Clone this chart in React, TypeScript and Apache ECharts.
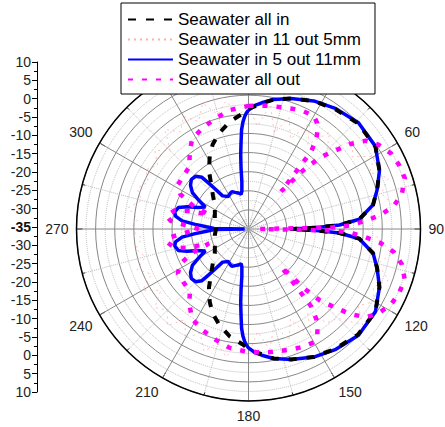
import React, { useEffect, useRef } from 'react';
import * as echarts from 'echarts';

// Seawater all in (black dashed)
const allInAngles = [0, 4, 8, 11, 18, 27, 36, 46, 57, 66, 73, 79, 85, 87.5, 89, 90, 91, 92.5, 95, 101, 107, 114, 123, 134, 144, 153, 162, 169, 172, 176, 180, 183, 190, 197, 203, 208, 214, 220, 227, 234, 245, 259, 270, 281, 295, 306, 313, 320, 326, 332, 337, 343, 350, 357, 360];
const allInValues = [-3.6, -2.6, -1.4, -0.5, 0.9, 2.6, 3.7, 4.8, 4.6, 2.5, 0.2, -1.8, -5.9, -11.2, -18, -24, -18, -11.2, -5.9, -1.8, 0.2, 2.5, 4.6, 4.8, 3.7, 2.6, 0.9, -0.5, -1.4, -2.6, -3.6, -4.8, -6.5, -8.8, -11, -13.4, -16.5, -19.8, -22.3, -24.1, -25.3, -26, -26.5, -26, -25.3, -24.1, -22.3, -19.8, -16.5, -13.4, -11, -8.8, -6.5, -4.8, -3.6];

// Seawater in 11 out 5mm (faint pink dotted)
const in11Angles = [0, 5, 10, 15, 20, 25, 30, 35, 40, 45, 50, 55, 60, 65, 70, 75, 80, 85, 90, 95, 100, 105, 110, 115, 120, 125, 130, 135, 140, 145, 150, 155, 160, 165, 170, 175, 180, 185, 190, 195, 200, 205, 210, 215, 220, 225, 230, 235, 240, 245, 250, 255, 260, 265, 270, 275, 280, 285, 290, 295, 300, 305, 310, 315, 320, 325, 330, 335, 340, 345, 350, 355, 360];
const in11Values = [-3, -8, -2, -9, -4, -9, -3, -8, -2, -6, 1, -2, 3, 0, 4, 1, 3, -1, -4, 0, 3, 0, 4, 1, 3, 0, 4, -2, -3, -8, -2, -9, -4, -9, -3, -8, -2, -5, -1, -4, -1, -5, -2, -6, -2, -5, -3, -7, -3, -7, -4, -7, -5, -7, -4, -6, -3, -6, -4, -6, -4, -6, -3, -6, -1, -4, -1, -4, 0, -4, -1, -5, -3];

// Seawater in 5 out 11mm (blue solid)
const in5Angles = [0, 3, 6, 11, 18, 27, 36, 46, 57, 66, 73, 79, 85, 87.5, 88.6, 89.3, 90, 90.7, 91.4, 92.5, 95, 101, 107, 114, 123, 134, 144, 153, 162, 169, 174, 177, 180, 181, 182, 183, 184, 185, 186, 187, 188, 190, 192, 196, 200, 204, 207, 212, 218, 220, 221, 222, 225, 229, 233, 237, 240, 243, 247, 250, 253, 257, 260, 263, 265, 267, 269, 270, 271, 273, 275, 277, 280, 283, 287, 290, 293, 297, 300, 303, 307, 311, 315, 318, 319, 320, 322, 328, 333, 336, 340, 344, 348, 350, 352, 353, 354, 355, 356, 357, 358, 359, 360];
const in5Values = [-3.9, -2.6, -1.8, -0.5, 0.9, 2.6, 3.9, 5.0, 4.6, 2.5, 0.2, -1.8, -5.9, -11.2, -16.4, -20.7, -24, -20.7, -16.4, -11.2, -5.9, -1.8, 0.2, 2.5, 4.6, 5.0, 3.9, 2.6, 0.9, -0.5, -1.8, -2.6, -3.9, -4.6, -5.6, -7, -9, -12.5, -15.5, -19, -22.5, -25, -25.7, -25.2, -24.8, -24.3, -24.5, -25, -24, -21, -19, -16.8, -15.5, -15.2, -16, -17.5, -20, -22.3, -20.6, -18, -15.8, -15.2, -15.6, -17.5, -21, -24, -26, -34, -26, -24, -21, -17.5, -15.6, -15.2, -15.8, -18, -20.6, -22.3, -20, -17.5, -16, -15.2, -15.5, -16.8, -19, -21, -24, -25, -24.5, -24.3, -24.8, -25.2, -25.7, -25, -22.5, -19, -15.5, -12.5, -9, -7, -5.6, -4.6, -3.9];

// Seawater all out (magenta dotted)
const allOutAngles = [0, 5, 10, 15, 20, 25, 30, 33, 35, 37, 39, 41, 43, 45, 48, 50, 53, 57, 62, 67, 72, 77, 81, 84, 86, 88, 89, 90, 91, 92, 94, 96, 99, 103, 108, 113, 118, 123, 127, 130, 132, 135, 137, 139, 141, 143, 145, 147, 150, 155, 160, 165, 170, 175, 180, 189, 196, 204, 212, 217, 220, 223, 230, 238, 243, 247, 250, 253, 256, 261, 264, 267, 270, 273, 276, 279, 284, 287, 290, 293, 297, 302, 310, 317, 320, 323, 328, 336, 344, 351, 360];
const allOutValues = [-2.8, -2.6, -2.3, -2.0, -1.5, -1.0, -0.8, -2.0, -3.5, -5.5, -9, -22, -14, -8.5, -4.2, -0.5, 3.4, 5.5, 7.2, 7.8, 8.0, 6.2, 3.5, -0.3, -4.3, -8.5, -13, -32, -13, -8.5, -4.3, -0.3, 3.5, 6.2, 8.0, 7.8, 7.2, 5.5, 3.4, -0.5, -4.2, -8.5, -14, -22, -9, -5.5, -3.5, -2.0, -0.8, -1.0, -1.5, -2.0, -2.3, -2.6, -2.8, -3.5, -4.7, -5.9, -7.2, -9.5, -11, -12.5, -13, -13.2, -15, -19, -24, -18, -15, -13.3, -14.5, -19, -22, -19, -14.5, -13.3, -15, -19, -24, -19, -15, -13.2, -13, -12.5, -11, -9.5, -7.2, -5.9, -4.7, -3.5, -2.8];

const seriesNames = ['Seawater all in', 'Seawater in 11 out 5mm', 'Seawater in 5 out 11mm', 'Seawater all out'];

// angle labels hidden behind the legend box in the reference
const hiddenAngleLabels = [0, 30, 330, 360];

// left linear scale (mirrored) range
const leftAxisMin = -45;
const leftAxisMax = 45;

const FONT = 'Liberation Sans, Arial, sans-serif';

function pairs(values: number[], angles: number[]) {
  return values.map((v, i) => [v, angles[i]]);
}

export default function App() {
  const ref = useRef<HTMLDivElement>(null);
  useEffect(() => {
    document.body.style.margin = '0';
    const chart = echarts.init(ref.current!, null, { renderer: 'svg' });
    chart.setOption({
      animation: false,
      backgroundColor: '#fff',
      textStyle: { fontFamily: FONT },
      legend: {
        data: seriesNames,
        orient: 'vertical',
        left: 121,
        top: 3,
        padding: [8, 14, 6, 6],
        itemWidth: 45,
        itemHeight: 14,
        itemGap: 3,
        backgroundColor: '#fff',
        borderColor: '#000',
        borderWidth: 1,
        borderRadius: 0,
        itemStyle: { opacity: 0, borderWidth: 0 },
        textStyle: { fontSize: 17, color: '#000', fontFamily: FONT },
        z: 10,
      },
      grid: { left: 37, top: 62, width: 1, height: 330 },
      xAxis: { type: 'value', show: false, min: 0, max: 1 },
      yAxis: {
        type: 'value',
        min: leftAxisMin,
        max: leftAxisMax,
        interval: 5,
        axisLine: { show: true, lineStyle: { color: '#000', width: 1 } },
        axisTick: { show: true, length: 5, lineStyle: { color: '#000' } },
        minorTick: { show: true, splitNumber: 2, length: 3, lineStyle: { color: '#000' } },
        splitLine: { show: false },
        axisLabel: {
          fontSize: 14,
          color: '#222',
          margin: 6,
          fontFamily: FONT,
          formatter: (v: number) => (v === 0 ? '{b|-35}' : String(Math.abs(v) - 35)),
          rich: { b: { fontSize: 14, fontWeight: 'bold', color: '#111', fontFamily: FONT } },
        },
      },
      polar: { center: [248.5, 229], radius: 172 },
      angleAxis: {
        type: 'value',
        min: 0,
        max: 360,
        interval: 30,
        startAngle: 90,
        clockwise: true,
        axisLine: { lineStyle: { color: '#000', width: 1.5 } },
        axisTick: { show: true, inside: true, length: 6, lineStyle: { color: '#000' } },
        minorTick: { show: true, splitNumber: 2, length: 3, lineStyle: { color: '#000' } },
        splitLine: { show: true, lineStyle: { color: '#888', width: 1 } },
        minorSplitLine: { show: true, lineStyle: { color: '#bbb', type: 'dotted', width: 1 } },
        axisLabel: {
          fontSize: 14,
          color: '#222',
          margin: 8,
          fontFamily: FONT,
          formatter: (v: number) => (hiddenAngleLabels.indexOf(v) >= 0 ? '' : String(v)),
        },
      },
      radiusAxis: {
        type: 'value',
        min: -35,
        max: 10,
        interval: 5,
        axisLine: { show: false },
        axisTick: { show: false },
        axisLabel: { show: false },
        minorTick: { show: false, splitNumber: 2 },
        splitLine: { show: true, lineStyle: { color: '#888', width: 1 } },
        minorSplitLine: { show: true, lineStyle: { color: '#bbb', type: 'dotted', width: 1 } },
      },
      series: [
        {
          name: seriesNames[1],
          type: 'line',
          coordinateSystem: 'polar',
          symbol: 'none',
          data: pairs(in11Values, in11Angles),
          lineStyle: { color: '#ff8c8c', width: 0.8, type: [2, 4], opacity: 0.7 },
          itemStyle: { color: '#ff8c8c' },
          z: 2,
        },
        {
          name: seriesNames[2],
          type: 'line',
          coordinateSystem: 'polar',
          symbol: 'none',
          data: pairs(in5Values, in5Angles),
          lineStyle: { color: '#0000ff', width: 3.5, type: 'solid' },
          itemStyle: { color: '#0000ff' },
          z: 3,
        },
        {
          name: seriesNames[0],
          type: 'line',
          coordinateSystem: 'polar',
          symbol: 'none',
          data: pairs(allInValues, allInAngles),
          lineStyle: { color: '#000', width: 4, type: [8, 10], cap: 'butt' },
          itemStyle: { color: '#000' },
          z: 4,
        },
        {
          name: seriesNames[3],
          type: 'line',
          coordinateSystem: 'polar',
          symbol: 'none',
          data: pairs(allOutValues, allOutAngles),
          lineStyle: { color: '#ff00ff', width: 4.5, type: [5, 9], cap: 'butt' },
          itemStyle: { color: '#ff00ff' },
          z: 5,
        },
      ],
    });
    return () => chart.dispose();
  }, []);
  return <div ref={ref} style={{ position: 'absolute', left: 0, top: 0, width: 445, height: 427 }} />;
}
